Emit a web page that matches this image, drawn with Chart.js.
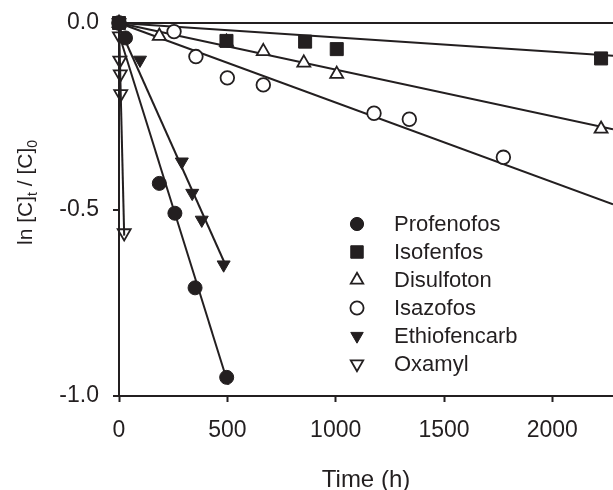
<!DOCTYPE html>
<html lang="en">
<head>
<meta charset="UTF-8">
<title>ln [C]t / [C]0 vs time</title>
<script src="https://cdn.jsdelivr.net/npm/chart.js"></script>
<style>
    html, body { margin: 0; padding: 0; background: #fff; overflow: hidden; }
    #grafico { display: block; }
</style>
</head>
<body>
<canvas id="grafico" width="613" height="490"></canvas>

<script>
    // valores: tempo (h) e ln([C]t/[C]0)
    var timeProfenofos = [0, 30, 186, 258, 351, 497];
    var lnProfenofos = [0, -0.04, -0.43, -0.51, -0.71, -0.95];
    var fitTimeProfenofos = [0, 505];
    var fitLnProfenofos = [-0.03, -0.97];

    var timeIsofenfos = [0, 496, 859, 1005, 2225];
    var lnIsofenfos = [0, -0.048, -0.050, -0.070, -0.095];
    var fitTimeIsofenfos = [0, 2280];
    var fitLnIsofenfos = [0, -0.0876];

    var timeDisulfoton = [0, 186, 496, 666, 853, 1005, 2225];
    var lnDisulfoton = [0, -0.035, -0.051, -0.076, -0.107, -0.137, -0.284];
    var fitTimeDisulfoton = [0, 2280];
    var fitLnDisulfoton = [0, -0.285];

    var timeIsazofos = [0, 254, 355, 500, 666, 1177, 1340, 1774];
    var lnIsazofos = [0, -0.023, -0.090, -0.147, -0.166, -0.242, -0.258, -0.360];
    var fitTimeIsazofos = [0, 2280];
    var fitLnIsazofos = [0, -0.486];

    var timeEthiofencarb = [0, 97, 290, 338, 382, 483];
    var lnEthiofencarb = [0, -0.099, -0.372, -0.456, -0.528, -0.648];
    var fitTimeEthiofencarb = [0, 485];
    var fitLnEthiofencarb = [-0.01, -0.64];

    var timeOxamyl = [0, 2, 4, 6, 8, 24];
    var lnOxamyl = [0, -0.035, -0.10, -0.137, -0.19, -0.563];
    var fitTimeOxamyl = [0, 24];
    var fitLnOxamyl = [0, -0.57];

    var xTicks = [0, 500, 1000, 1500, 2000];
    var yTicks = [0, -0.5, -1.0];

    var ink = '#231f20';
    var fonte = 'Arial, "Liberation Sans", Helvetica, sans-serif';

    var series = [
        { nome: 'Profenofos', t: timeProfenofos, y: lnProfenofos, ft: fitTimeProfenofos, fy: fitLnProfenofos, estilo: 'circle', fill: ink, raio: 7, rot: 0 },
        { nome: 'Isofenfos', t: timeIsofenfos, y: lnIsofenfos, ft: fitTimeIsofenfos, fy: fitLnIsofenfos, estilo: 'rect', fill: ink, raio: 9.2, rot: 0 },
        { nome: 'Disulfoton', t: timeDisulfoton, y: lnDisulfoton, ft: fitTimeDisulfoton, fy: fitLnDisulfoton, estilo: 'triangle', fill: '#fff', raio: 7.5, rot: 0 },
        { nome: 'Isazofos', t: timeIsazofos, y: lnIsazofos, ft: fitTimeIsazofos, fy: fitLnIsazofos, estilo: 'circle', fill: '#fff', raio: 6.8, rot: 0 },
        { nome: 'Ethiofencarb', t: timeEthiofencarb, y: lnEthiofencarb, ft: fitTimeEthiofencarb, fy: fitLnEthiofencarb, estilo: 'triangle', fill: ink, raio: 7.5, rot: 180 },
        { nome: 'Oxamyl', t: timeOxamyl, y: lnOxamyl, ft: fitTimeOxamyl, fy: fitLnOxamyl, estilo: 'triangle', fill: 'rgba(255,255,255,0)', raio: 7.5, rot: 180 }
    ];

    function pontos(t, y) {
        return t.map(function (v, i) { return { x: v, y: y[i] }; });
    }

    var datasets = [];
    series.forEach(function (s) {
        // reta ajustada
        datasets.push({
            label: s.nome + ' fit',
            data: pontos(s.ft, s.fy),
            showLine: true,
            borderColor: ink,
            borderWidth: 2,
            pointRadius: 0,
            clip: false,
            order: 1
        });
        // pontos medidos
        datasets.push({
            label: s.nome,
            data: pontos(s.t, s.y),
            showLine: false,
            pointStyle: s.estilo,
            pointRadius: s.raio,
            pointRotation: s.rot,
            pointBackgroundColor: s.fill,
            pointBorderColor: ink,
            pointBorderWidth: s.fill === ink ? 1 : 1.8,
            clip: false,
            order: 0
        });
    });

    function marcador(ctx, s, x, y, r) {
        ctx.beginPath();
        if (s.estilo === 'circle') {
            ctx.arc(x, y, r, 0, Math.PI * 2);
        } else if (s.estilo === 'rect') {
            var h = r * Math.SQRT1_2;
            ctx.rect(x - h, y - h, 2 * h, 2 * h);
        } else {
            var a = s.rot * Math.PI / 180;
            for (var k = 0; k < 3; k++) {
                ctx.lineTo(x + Math.sin(a) * r, y - Math.cos(a) * r);
                a += Math.PI * 2 / 3;
            }
            ctx.closePath();
        }
        ctx.fillStyle = s.fill === ink ? ink : '#fff';
        ctx.fill();
        ctx.lineWidth = s.fill === ink ? 1 : 1.8;
        ctx.strokeStyle = ink;
        ctx.stroke();
    }

    var legenda = {
        id: 'legenda',
        afterDraw: function (chart) {
            var ctx = chart.ctx;
            ctx.save();
            series.forEach(function (s, i) {
                var y = 224 + i * 28;
                marcador(ctx, s, 357, y, s.estilo === 'rect' ? 8.8 : (s.estilo === 'circle' ? 6.6 : 7.2));
                ctx.font = '22px ' + fonte;
                ctx.textBaseline = 'middle';
                ctx.textAlign = 'left';
                ctx.fillStyle = ink;
                ctx.fillText(s.nome, 394, y + 1);
            });
            ctx.restore();
        }
    };

    // titulo do eixo y com subscritos
    var tituloY = {
        id: 'tituloY',
        afterDraw: function (chart) {
            var ctx = chart.ctx;
            var partes = [
                { t: 'ln [C]', f: 21, dy: 0 },
                { t: 't', f: 14, dy: 5 },
                { t: ' / [C]', f: 21, dy: 0 },
                { t: '0', f: 14, dy: 5 }
            ];
            ctx.save();
            ctx.translate(32, 192.5);
            ctx.rotate(-Math.PI / 2);
            ctx.fillStyle = ink;
            ctx.textBaseline = 'alphabetic';
            ctx.textAlign = 'left';
            var total = 0;
            partes.forEach(function (p) {
                ctx.font = p.f + 'px ' + fonte;
                p.w = ctx.measureText(p.t).width;
                total += p.w;
            });
            var x = -total / 2;
            partes.forEach(function (p) {
                ctx.font = p.f + 'px ' + fonte;
                ctx.fillText(p.t, x, p.dy);
                x += p.w;
            });
            ctx.restore();
        }
    };

    new Chart(document.getElementById('grafico'), {
        type: 'scatter',
        data: { datasets: datasets },
        options: {
            responsive: false,
            animation: false,
            devicePixelRatio: 1,
            layout: { autoPadding: false, padding: { top: 23, right: 0, bottom: 0, left: 0 } },
            plugins: {
                legend: { display: false },
                tooltip: { enabled: false }
            },
            scales: {
                x: {
                    type: 'linear',
                    min: 0,
                    max: 2280,
                    afterBuildTicks: function (sc) { sc.ticks = xTicks.map(function (v) { return { value: v }; }); },
                    afterFit: function (sc) {
                        sc.height = 94;
                        sc.paddingLeft = 0;
                        sc.paddingRight = 0;
                    },
                    grid: { drawOnChartArea: false, drawTicks: true, tickLength: 6, tickColor: ink, tickWidth: 2 },
                    border: { color: ink, width: 2 },
                    ticks: {
                        color: ink,
                        font: { family: fonte, size: 23 },
                        padding: 15,
                        maxRotation: 0,
                        callback: function (v) { return String(v); }
                    },
                    title: {
                        display: true,
                        text: 'Time (h)',
                        color: ink,
                        font: { family: fonte, size: 24, lineHeight: 1 },
                        padding: { top: 0, bottom: -2 }
                    }
                },
                y: {
                    type: 'linear',
                    min: -1,
                    max: 0,
                    afterBuildTicks: function (sc) { sc.ticks = yTicks.map(function (v) { return { value: v }; }); },
                    afterFit: function (sc) { sc.width = 119; },
                    grid: {
                        color: function (c) { return c.tick && c.tick.value === 0 ? ink : 'rgba(0,0,0,0)'; },
                        lineWidth: 2,
                        tickColor: ink,
                        tickLength: 6,
                        tickWidth: 2
                    },
                    border: { color: ink, width: 2 },
                    ticks: {
                        color: ink,
                        font: { family: fonte, size: 23, lineHeight: 0.6 },
                        padding: 14,
                        callback: function (v) { return v.toFixed(1); }
                    }
                }
            }
        },
        plugins: [tituloY, legenda]
    });
</script>
</body>
</html>
